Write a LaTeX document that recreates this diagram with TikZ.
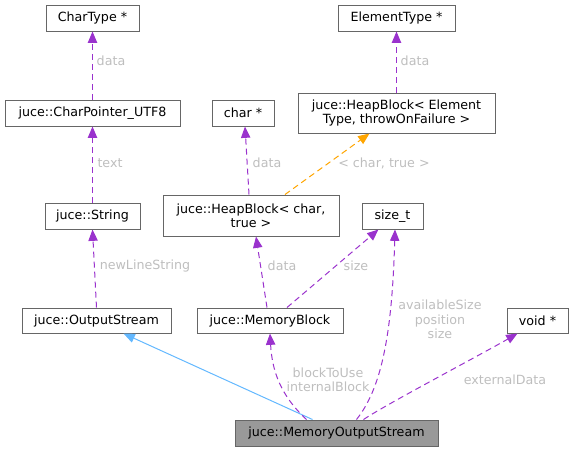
\documentclass[tikz,border=0pt]{standalone}
\usepackage{fontspec}
\setmainfont{DejaVu Sans}
\usetikzlibrary{arrows.meta,calc}
\definecolor{edgepurple}{HTML}{9A32CD}
\definecolor{edgeorange}{HTML}{FFA500}
\definecolor{edgeblue}{HTML}{63B8FF}
\definecolor{boxborder}{HTML}{666666}
\definecolor{mosfill}{HTML}{999999}
\definecolor{lblgray}{HTML}{BEBEBE}
\begin{document}
\begin{tikzpicture}[x=0.75pt,y=-0.75pt,
  txt/.style={font=\fontsize{9.5pt}{10.7pt}\selectfont},
  sz/.style 2 args={minimum width=#1*0.75pt, minimum height=#2*0.75pt},
  box/.style={draw=boxborder, fill=white, line width=0.75pt, inner sep=0pt, align=center, text=black, txt},
  mainbox/.style={box, fill=mosfill},
  rel/.style={draw=edgepurple, line width=0.75pt, dash pattern=on 4.5pt off 3pt,
    -{Triangle[length=8.5pt,width=7pt,fill=edgepurple]}},
  tmpl/.style={draw=edgeorange, line width=0.75pt, dash pattern=on 4.5pt off 3pt,
    -{Triangle[length=8.5pt,width=7pt,fill=edgeorange]}},
  inh/.style={draw=edgeblue, line width=0.75pt,
    -{Triangle[length=8.5pt,width=7pt,fill=edgeblue]}},
  lbl/.style={text=lblgray, inner sep=0pt, align=center, txt}
]
\useasboundingbox (0,0) rectangle (574,451);

% nodes
\node[box, sz={93}{26}] (chartype) at (92.5,18) {CharType *};
\node[box, sz={175}{26}] (cp8) at (92.5,113) {juce::CharPointer\_UTF8};
\node[box, sz={62}{26}] (charp) at (243,113) {char *};
\node[box, sz={95}{26}] (string) at (92.5,216) {juce::String};
\node[box, sz={176}{41}] (hbchar) at (251,215.5) {juce::HeapBlock< char,\\true >};
\node[box, sz={117}{26}] (elemtype) at (396.5,18) {ElementType *};
\node[box, sz={197}{40}] (hbelem) at (396.5,113) {juce::HeapBlock< Element\\Type, throwOnFailure >};
\node[box, sz={61}{26}] (sizet) at (392.5,216) {size\_t};
\node[box, sz={149}{25}] (ostream) at (96.5,320.5) {juce::OutputStream};
\node[box, sz={146}{25}] (memblock) at (270,320.5) {juce::MemoryBlock};
\node[box, sz={61}{25}] (voidp) at (537.5,320.5) {void *};
\node[mainbox, sz={203}{26}] (mos) at (336.5,433) {juce::MemoryOutputStream};

% edges
\draw[rel] (cp8.north) -- (chartype.south);
\draw[rel] (string.north) -- (cp8.south);
\draw[rel] ($(hbchar.north)+(-2,0)$) -- ($(charp.south)+(2,0)$);
\draw[tmpl] ($(hbchar.north)+(34,0)$) -- ($(hbelem.south)+(-27,0)$);
\draw[rel] (hbelem.north) -- (elemtype.south);
\draw[rel] (ostream.north) -- (string.south);
\draw[rel] ($(memblock.north)+(-3,0)$) -- ($(hbchar.south)+(5,0)$);
\draw[rel] ($(memblock.north)+(17,0)$) -- ($(sizet.south)+(-14,0)$);
\draw[inh] ($(mos.north)+(-24,0)$) -- ($(ostream.south)+(27,0)$);
\draw[rel] ($(mos.north)+(-30,0)$) .. controls (280,395) and (272,370) .. (memblock.south);
\draw[rel] ($(mos.north)+(20,0)$) .. controls (380,390) and (392,340) .. ($(sizet.south)+(2.5,0)$);
\draw[rel] ($(mos.north)+(27,0)$) .. controls (385,405) and (480,355) .. ($(voidp.south)+(-20,0)$);

% labels
\node[lbl] (l1) at (111,61) {data};
\node[lbl] (l2) at (110,163) {text};
\node[lbl] (l3) at (267,163) {data};
\node[lbl] (l4) at (384,163) {< char, true >};
\node[lbl] (l5) at (415,61) {data};
\node[lbl] (l6) at (145,266) {newLineString};
\node[lbl] (l7) at (282,266) {data};
\node[lbl] (l8) at (356,266) {size};
\node[lbl] (l9) at (328,380) {blockToUse\\internalBlock};
\node[lbl] (l10) at (440,319.5) {availableSize\\position\\size};
\node[lbl] (l11) at (505,380) {externalData};
\end{tikzpicture}
\end{document}
